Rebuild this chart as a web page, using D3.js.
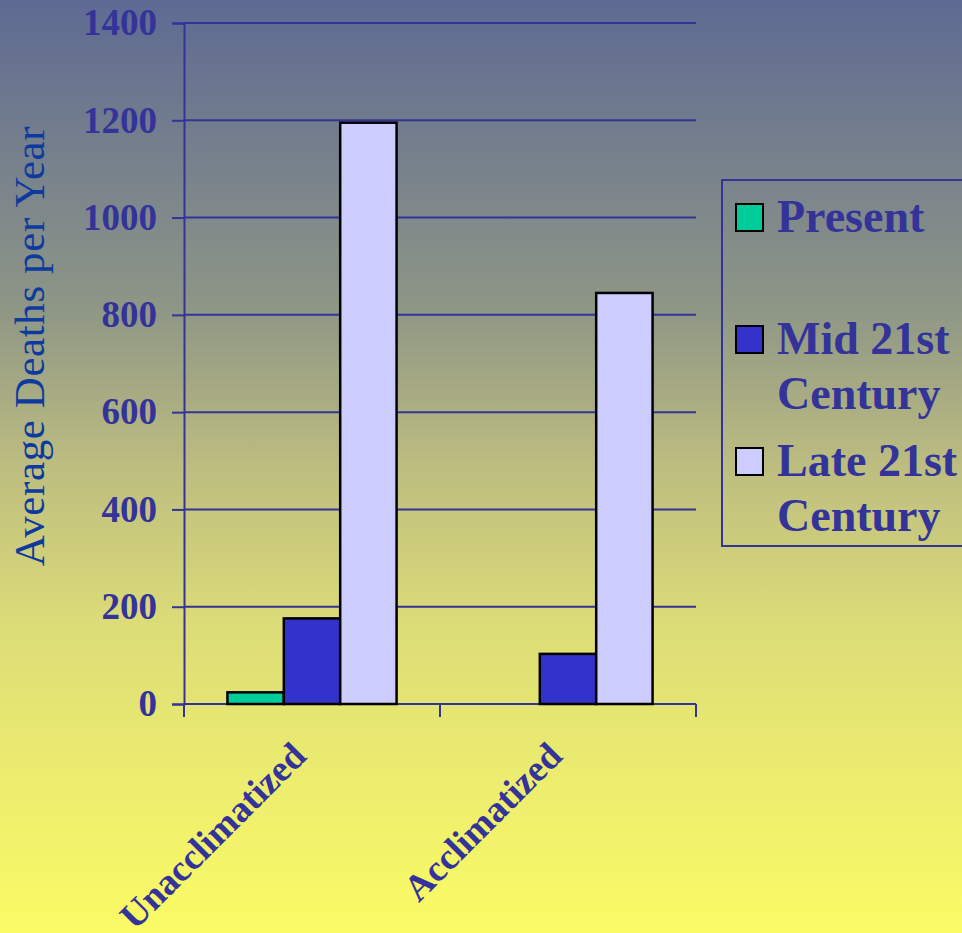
<meta charset="utf-8" />
<script src="https://d3js.org/d3.v7.min.js"></script>
<style>
  html, body { margin: 0; padding: 0; }
  svg text { font-family: "Liberation Serif", "Times New Roman", serif; }
</style>
<svg width="962" height="933"></svg>
<script>
  // data
  var categories = ["Unacclimatized", "Acclimatized"];
  var seriesNames = ["Present", "Mid 21st Century", "Late 21st Century"];
  var presentVals = [24, 0];
  var midVals = [176, 103];
  var lateVals = [1195, 845];
  var yTicks = [0, 200, 400, 600, 800, 1000, 1200, 1400];
  var legendLines = [["Present"], ["Mid 21st", "Century"], ["Late 21st", "Century"]];
  var colors = ["#00cc99", "#3333cc", "#ccccff"];

  var allVals = [presentVals, midVals, lateVals];
  var txt = "#333399";

  var svg = d3.select("svg");

  // background gradient
  var grad = svg.append("defs").append("linearGradient")
    .attr("id", "bg").attr("x1", 0).attr("y1", 0).attr("x2", 0).attr("y2", 1);
  [[0, "#5e6a93"], [0.33, "#8e9686"], [0.5, "#bdbd80"], [0.67, "#dcdc78"], [0.85, "#eeee6e"], [1, "#fbfb66"]]
    .forEach(function (s) {
      grad.append("stop").attr("offset", s[0]).attr("stop-color", s[1]);
    });
  svg.append("rect").attr("width", 962).attr("height", 933).attr("fill", "url(#bg)");

  var x0 = d3.scaleBand().domain(categories).range([184, 696]);
  var x1 = d3.scaleBand().domain(seriesNames).range([0, x0.bandwidth()]).paddingOuter(0.77);
  var y = d3.scaleLinear().domain([0, 1400]).range([704, 23]);

  // gridlines
  svg.append("g").selectAll("line").data(yTicks).enter().append("line")
    .attr("x1", 184).attr("x2", 696)
    .attr("y1", function (d) { return y(d); }).attr("y2", function (d) { return y(d); })
    .attr("stroke", txt).attr("stroke-width", 2);

  // y axis
  var yAxis = svg.append("g").attr("transform", "translate(184,0)")
    .call(d3.axisLeft(y).tickValues(yTicks).tickFormat(d3.format("d")).tickSize(12).tickPadding(15));
  yAxis.select(".domain").attr("stroke", txt).attr("stroke-width", 2);
  yAxis.selectAll(".tick line").attr("stroke", txt).attr("stroke-width", 2);
  yAxis.selectAll(".tick text")
    .attr("fill", txt).style("font-size", "37px").style("font-weight", "bold")
    .style("font-family", "'Liberation Serif', 'Times New Roman', serif");

  // x axis ticks at category boundaries
  var bounds = categories.map(function (c) { return x0(c); }).concat([x0.range()[1]]);
  svg.append("g").selectAll("line").data(bounds).enter().append("line")
    .attr("x1", function (d) { return d; }).attr("x2", function (d) { return d; })
    .attr("y1", 704).attr("y2", 717)
    .attr("stroke", txt).attr("stroke-width", 2);

  // bars
  var groups = svg.append("g").selectAll("g").data(categories).enter().append("g")
    .attr("transform", function (c) { return "translate(" + x0(c) + ",0)"; });
  groups.selectAll("rect")
    .data(function (c, i) {
      return seriesNames.map(function (s, j) { return { s: s, j: j, v: allVals[j][i] }; })
        .filter(function (d) { return d.v > 0; });
    })
    .enter().append("rect")
    .attr("x", function (d) { return x1(d.s); })
    .attr("width", x1.bandwidth())
    .attr("y", function (d) { return y(d.v); })
    .attr("height", function (d) { return y(0) - y(d.v); })
    .attr("fill", function (d) { return colors[d.j]; })
    .attr("stroke", "#000").attr("stroke-width", 2.5);

  // category labels, rotated
  svg.append("g").selectAll("text").data(categories).enter().append("text")
    .attr("transform", function (c) {
      return "translate(" + (x0(c) + x0.bandwidth() / 2 - 4) + ",758) rotate(-45)";
    })
    .attr("text-anchor", "end")
    .attr("fill", txt).style("font-size", "37px").style("font-weight", "bold")
    .text(function (c) { return c; });

  // y title
  svg.append("text")
    .attr("transform", "translate(44,346) rotate(-90)")
    .attr("text-anchor", "middle")
    .attr("fill", "#0d3a9e").style("font-size", "43px").style("letter-spacing", "0.6px")
    .text("Average Deaths per Year");

  // legend
  var lg = svg.append("g");
  lg.append("rect").attr("x", 722).attr("y", 180).attr("width", 260).attr("height", 366)
    .attr("fill", "none").attr("stroke", txt).attr("stroke-width", 2);
  var swY = [204, 326, 448];
  var items = lg.selectAll("g.item").data(legendLines).enter().append("g")
    .attr("class", "item")
    .attr("transform", function (d, i) { return "translate(736," + swY[i] + ")"; });
  items.append("rect").attr("width", 27).attr("height", 27)
    .attr("fill", function (d, i) { return colors[i]; })
    .attr("stroke", "#000").attr("stroke-width", 2);
  items.append("text")
    .attr("x", 41).attr("y", 28)
    .attr("fill", txt).style("font-size", "46px").style("font-weight", "bold")
    .selectAll("tspan").data(function (d) { return d; }).enter().append("tspan")
    .attr("x", 41).attr("dy", function (d, i) { return i === 0 ? 0 : 55; })
    .text(function (d) { return d; });
</script>
